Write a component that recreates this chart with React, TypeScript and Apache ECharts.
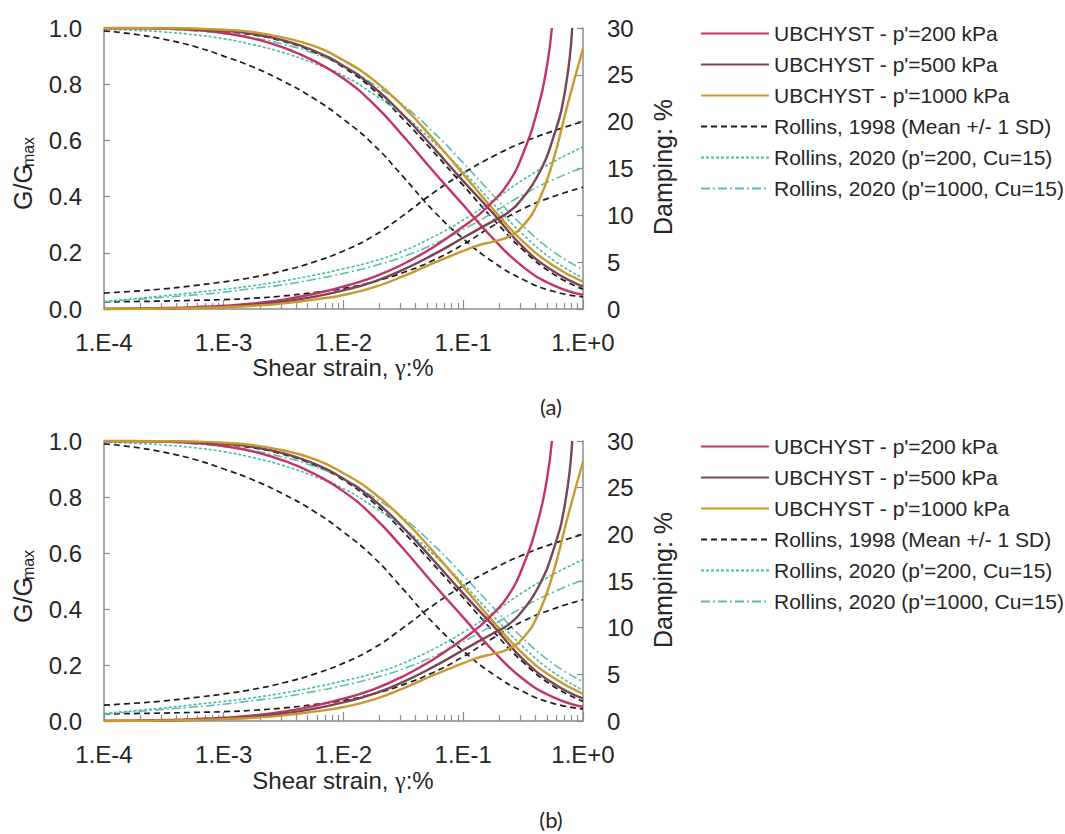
import React, { useEffect, useRef } from "react";
import * as echarts from "echarts";

// Shear strain (%) at quarter-decade steps, shared by the modulus-reduction and Rollins curves
const STRAIN = [
  1e-4, 1.78e-4, 3.16e-4, 5.62e-4, 1e-3, 1.78e-3, 3.16e-3, 5.62e-3, 0.01, 0.0178, 0.0316, 0.0562, 0.1, 0.178, 0.316, 0.562, 1,
];

// G/Gmax – UBCHYST
const G_UBC_200 = [1.0, 1.0, 0.998, 0.993, 0.982, 0.962, 0.93, 0.884, 0.82, 0.73, 0.615, 0.49, 0.37, 0.25, 0.15, 0.085, 0.05];
const G_UBC_500 = [1.0, 1.0, 0.999, 0.996, 0.99, 0.978, 0.956, 0.92, 0.865, 0.79, 0.69, 0.575, 0.455, 0.34, 0.22, 0.135, 0.08];
const G_UBC_1000 = [1.0, 1.0, 0.999, 0.998, 0.994, 0.985, 0.966, 0.936, 0.885, 0.815, 0.72, 0.605, 0.48, 0.355, 0.24, 0.155, 0.097];

// G/Gmax – Rollins 1998 (mean +1 SD / -1 SD)
const G_R1998_HI = [1.0, 1.0, 0.998, 0.995, 0.988, 0.975, 0.952, 0.915, 0.86, 0.78, 0.675, 0.56, 0.44, 0.32, 0.21, 0.125, 0.07];
const G_R1998_LO = [0.99, 0.978, 0.96, 0.935, 0.9, 0.86, 0.81, 0.75, 0.675, 0.585, 0.47, 0.35, 0.25, 0.167, 0.105, 0.063, 0.043];

// G/Gmax – Rollins 2020
const G_R2020_200 = [0.995, 0.992, 0.986, 0.976, 0.962, 0.94, 0.912, 0.875, 0.83, 0.765, 0.69, 0.595, 0.49, 0.375, 0.265, 0.175, 0.11];
const G_R2020_1000 = [1.0, 0.998, 0.996, 0.99, 0.98, 0.965, 0.942, 0.91, 0.865, 0.8, 0.725, 0.63, 0.52, 0.405, 0.295, 0.205, 0.14];

// Damping (%) – UBCHYST, each curve sampled up to where it leaves the 30 % axis
const D_STRAIN_UBC_200 = [
  1e-4, 1.78e-4, 3.16e-4, 5.62e-4, 1e-3, 1.78e-3, 3.16e-3, 5.62e-3, 0.01, 0.0178, 0.0316, 0.0562, 0.1, 0.133, 0.178, 0.237, 0.316, 0.422, 0.501, 0.55,
];
const D_UBC_200 = [0, 0.03, 0.1, 0.2, 0.35, 0.6, 1.0, 1.6, 2.4, 3.4, 4.8, 6.6, 8.8, 10.0, 11.5, 13.4, 16.6, 21.5, 26.0, 30];
const D_STRAIN_UBC_500 = [
  1e-4, 1.78e-4, 3.16e-4, 5.62e-4, 1e-3, 1.78e-3, 3.16e-3, 5.62e-3, 0.01, 0.0178, 0.0316, 0.0562, 0.1, 0.133, 0.178, 0.237, 0.316, 0.422, 0.562, 0.708, 0.813,
];
const D_UBC_500 = [0, 0.02, 0.05, 0.12, 0.25, 0.45, 0.8, 1.3, 2.0, 2.9, 4.2, 5.8, 7.6, 8.5, 9.4, 10.3, 11.9, 14.3, 18.2, 23.3, 30];
const D_STRAIN_UBC_1000 = [
  1e-4, 1.78e-4, 3.16e-4, 5.62e-4, 1e-3, 1.78e-3, 3.16e-3, 5.62e-3, 0.01, 0.0178, 0.0316, 0.0562, 0.1, 0.133, 0.178, 0.237, 0.316, 0.422, 0.562, 0.75, 1,
];
const D_UBC_1000 = [0, 0.02, 0.05, 0.1, 0.2, 0.35, 0.6, 1.0, 1.5, 2.3, 3.5, 4.9, 6.2, 6.8, 7.2, 7.7, 8.9, 11.4, 15.8, 22.0, 27.8];

// Damping (%) – Rollins 1998 (mean +1 SD / -1 SD)
const D_R1998_HI = [1.7, 1.9, 2.15, 2.5, 2.9, 3.4, 4.1, 5.0, 6.2, 7.8, 10.0, 12.4, 14.5, 16.3, 17.8, 19.0, 20.0];
const D_R1998_LO = [0.75, 0.8, 0.85, 0.92, 1.0, 1.15, 1.4, 1.75, 2.2, 2.9, 3.9, 5.2, 6.9, 8.9, 10.7, 12.0, 13.0];

// Damping (%) – Rollins 2020
const D_R2020_200 = [0.8, 1.1, 1.4, 1.75, 2.1, 2.5, 3.0, 3.6, 4.3, 5.1, 6.2, 7.7, 9.5, 11.6, 13.8, 15.7, 17.3];
const D_R2020_1000 = [0.75, 1.0, 1.25, 1.5, 1.8, 2.2, 2.6, 3.15, 3.8, 4.6, 5.6, 6.9, 8.5, 10.3, 12.2, 13.8, 15.1];

// Axis ticks
const X_MAJOR = [1e-4, 1e-3, 1e-2, 1e-1, 1];
const G_TICKS = [0, 0.2, 0.4, 0.6, 0.8, 1.0];
const D_TICKS = [0, 5, 10, 15, 20, 25, 30];

const NAME_UBC_200 = "UBCHYST - p'=200 kPa";
const NAME_UBC_500 = "UBCHYST - p'=500 kPa";
const NAME_UBC_1000 = "UBCHYST - p'=1000 kPa";
const NAME_R1998 = "Rollins, 1998 (Mean +/- 1 SD)";
const NAME_R2020_200 = "Rollins, 2020 (p'=200, Cu=15)";
const NAME_R2020_1000 = "Rollins, 2020 (p'=1000, Cu=15)";
const LEGEND_NAMES = [NAME_UBC_200, NAME_UBC_500, NAME_UBC_1000, NAME_R1998, NAME_R2020_200, NAME_R2020_1000];

const PANEL_LABELS = ["(a)", "(b)"];

const FONT = "'Liberation Sans', Arial, Helvetica, sans-serif";
const TEXT = "#262626";
const AXIS = "#8c8c8c";

const LINE_STYLES: Record<string, any> = {
  [NAME_UBC_200]: { color: "#C43266", width: 2.4, type: "solid" },
  [NAME_UBC_500]: { color: "#784650", width: 2.4, type: "solid" },
  [NAME_UBC_1000]: { color: "#C9982F", width: 2.4, type: "solid" },
  [NAME_R1998]: { color: "#1c1c1c", width: 1.7, type: [6, 4] },
  [NAME_R2020_200]: { color: "#48BBA9", width: 1.6, type: [3, 2] },
  [NAME_R2020_1000]: { color: "#5DBDB3", width: 1.6, type: [9, 3, 2, 3] },
};

function minorTicks(): number[] {
  const out: number[] = [];
  for (let e = -4; e < 0; e++) {
    for (let m = 2; m <= 9; m++) out.push(m * Math.pow(10, e));
  }
  return out;
}

function pairs(xs: number[], ys: number[]) {
  return xs.map((x, i) => [x, ys[i]]);
}

function expLabel(v: number) {
  const e = Math.round(Math.log10(v));
  return "1.E" + (e >= 0 ? "+" : "") + e;
}

function buildOption() {
  const tops = [28, 441];
  const heights = [281, 280];
  const grid: any[] = [];
  const xAxis: any[] = [];
  const yAxis: any[] = [];
  const series: any[] = [];
  const legend: any[] = [];
  const graphic: any[] = [];
  const minor = minorTicks();

  tops.forEach((top, p) => {
    const h = heights[p];
    grid.push({ left: 104, top, width: 479, height: h, containLabel: false });

    xAxis.push({
      type: "log",
      logBase: 10,
      gridIndex: p,
      position: "bottom",
      min: 1e-4,
      max: 1,
      axisLine: { show: true, lineStyle: { color: AXIS, width: 1.5 } },
      axisTick: { show: true, inside: true, length: 6, customValues: minor, lineStyle: { color: AXIS, width: 1.2 } },
      axisLabel: {
        customValues: X_MAJOR,
        formatter: (v: number) => expLabel(v),
        margin: 21,
        fontSize: 24,
        fontFamily: FONT,
        color: TEXT,
      },
      splitLine: { show: false },
    });
    xAxis.push({
      type: "log",
      logBase: 10,
      gridIndex: p,
      position: "bottom",
      min: 1e-4,
      max: 1,
      axisLine: { show: false },
      axisTick: { show: true, inside: true, length: 9, customValues: X_MAJOR, lineStyle: { color: AXIS, width: 1.2 } },
      axisLabel: { show: false },
      splitLine: { show: false },
    });

    yAxis.push({
      type: "value",
      gridIndex: p,
      position: "left",
      min: 0,
      max: 1,
      interval: 0.2,
      axisLine: { show: true, lineStyle: { color: AXIS, width: 1.5 } },
      axisTick: { show: true, inside: true, length: 6, customValues: G_TICKS, lineStyle: { color: AXIS, width: 1.2 } },
      axisLabel: {
        formatter: (v: number) => v.toFixed(1),
        margin: 22,
        fontSize: 24,
        fontFamily: FONT,
        color: TEXT,
      },
      splitLine: { show: false },
    });
    yAxis.push({
      type: "value",
      gridIndex: p,
      position: "right",
      min: 0,
      max: 30,
      interval: 5,
      axisLine: { show: true, lineStyle: { color: AXIS, width: 1.5 } },
      axisTick: { show: true, inside: true, length: 6, customValues: D_TICKS, lineStyle: { color: AXIS, width: 1.2 } },
      axisLabel: { margin: 24, fontSize: 24, fontFamily: FONT, color: TEXT },
      splitLine: { show: false },
    });

    const xi = 2 * p;
    const gi = 2 * p;
    const di = 2 * p + 1;
    const line = (name: string, yIdx: number, data: number[][], z: number) => ({
      type: "line",
      name,
      xAxisIndex: xi,
      yAxisIndex: yIdx,
      data,
      symbol: "none",
      smooth: 0.5,
      silent: true,
      z,
      lineStyle: { ...LINE_STYLES[name] },
      itemStyle: { color: LINE_STYLES[name].color },
    });

    series.push(
      line(NAME_UBC_200, gi, pairs(STRAIN, G_UBC_200), 4),
      line(NAME_UBC_500, gi, pairs(STRAIN, G_UBC_500), 4),
      line(NAME_UBC_1000, gi, pairs(STRAIN, G_UBC_1000), 4),
      line(NAME_R1998, gi, pairs(STRAIN, G_R1998_HI), 3),
      line(NAME_R1998, gi, pairs(STRAIN, G_R1998_LO), 3),
      line(NAME_R2020_200, gi, pairs(STRAIN, G_R2020_200), 3),
      line(NAME_R2020_1000, gi, pairs(STRAIN, G_R2020_1000), 3),
      line(NAME_UBC_200, di, pairs(D_STRAIN_UBC_200, D_UBC_200), 4),
      line(NAME_UBC_500, di, pairs(D_STRAIN_UBC_500, D_UBC_500), 4),
      line(NAME_UBC_1000, di, pairs(D_STRAIN_UBC_1000, D_UBC_1000), 4),
      line(NAME_R1998, di, pairs(STRAIN, D_R1998_HI), 3),
      line(NAME_R1998, di, pairs(STRAIN, D_R1998_LO), 3),
      line(NAME_R2020_200, di, pairs(STRAIN, D_R2020_200), 3),
      line(NAME_R2020_1000, di, pairs(STRAIN, D_R2020_1000), 3)
    );

    legend.push({
      orient: "vertical",
      left: 695,
      top: 18 + 413 * p,
      itemWidth: 68,
      itemHeight: 14,
      itemGap: 10,
      selectedMode: false,
      data: LEGEND_NAMES,
      itemStyle: { opacity: 0 },
      textStyle: { fontSize: 21, lineHeight: 21, fontFamily: FONT, color: TEXT },
    });

    const off = 413 * p;
    graphic.push(
      {
        type: "text",
        x: 22.5,
        y: 187 + off,
        rotation: Math.PI / 2,
        style: { text: "G/G", fontSize: 25, fontFamily: FONT, fill: TEXT, align: "center", verticalAlign: "middle" },
      },
      {
        type: "text",
        x: 28.5,
        y: 152 + off,
        rotation: Math.PI / 2,
        style: { text: "max", fontSize: 16, fontFamily: FONT, fill: TEXT, align: "center", verticalAlign: "middle" },
      },
      {
        type: "text",
        x: 663,
        y: 167 + off,
        rotation: Math.PI / 2,
        style: { text: "Damping: %", fontSize: 25, fontFamily: FONT, fill: TEXT, align: "center", verticalAlign: "middle" },
      },
      {
        type: "text",
        x: 343,
        y: 367 + off,
        style: {
          text: "{a|Shear strain, }{g|γ}{a|:%}",
          align: "center",
          verticalAlign: "middle",
          rich: {
            a: { fontSize: 24, fontFamily: FONT, fill: TEXT },
            g: { fontSize: 24, fontFamily: "'Liberation Serif', 'DejaVu Serif', serif", fill: TEXT },
          },
        },
      },
      {
        type: "text",
        x: 551,
        y: 406 + off,
        style: { text: PANEL_LABELS[p], fontSize: 22, fontFamily: "Lato, 'Open Sans', sans-serif", fill: TEXT, align: "center", verticalAlign: "middle" },
      }
    );
  });

  return {
    animation: false,
    backgroundColor: "#ffffff",
    grid,
    xAxis,
    yAxis,
    legend,
    series,
    graphic,
  };
}

export default function App() {
  const ref = useRef<HTMLDivElement>(null);
  useEffect(() => {
    if (!ref.current) return;
    const chart = echarts.init(ref.current, null, { renderer: "svg" });
    chart.setOption(buildOption());
    return () => chart.dispose();
  }, []);
  return <div ref={ref} style={{ position: "absolute", left: 0, top: 0, width: 1065, height: 834 }} />;
}
